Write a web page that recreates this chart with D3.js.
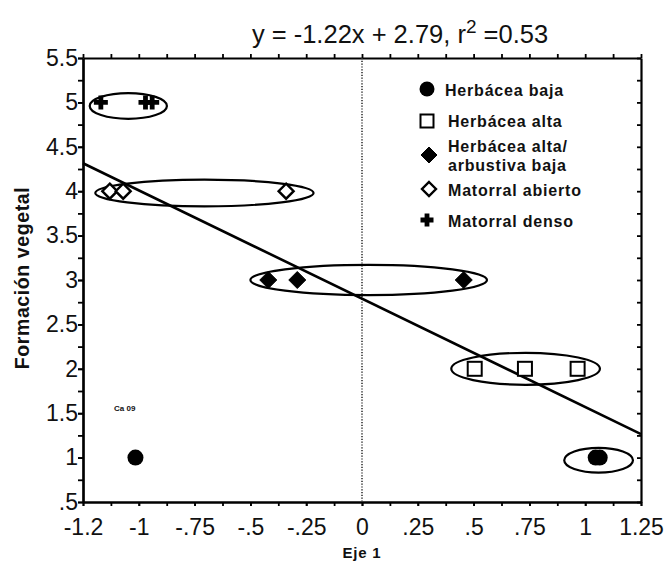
<!DOCTYPE html>
<html>
<head>
<meta charset="utf-8">
<script src="https://cdn.jsdelivr.net/npm/d3@7"></script>
<style>
  html, body { margin: 0; padding: 0; background: #fff; }
  svg { display: block; }
  .tick text { font-family: "Liberation Sans", Arial, sans-serif; }
</style>
</head>
<body>
<svg id="chart" width="664" height="565"></svg>
<script>
// Regression fit shown in the title
const slope = -1.22;
const intercept = 2.79;
const r2 = 0.53;

// Observations per vegetation class (Eje 1 score, formation code)
const herbaceaBaja = [[-1.015, 1], [1.047, 1], [1.065, 1]];
const herbaceaAlta = [[0.505, 2], [0.73, 2], [0.966, 2]];
const herbaceaArbustiva = [[-0.42, 3], [-0.29, 3], [0.456, 3]];
const matorralAbierto = [[-1.13, 4], [-1.07, 4], [-0.34, 4]];
const matorralDenso = [[-1.17, 5], [-0.97, 5], [-0.94, 5]];

// Grouping ellipses: [centre x, centre y, half-width, half-height] in data units
const groupEllipses = [
  [-1.047, 4.96, 0.173, 0.145],
  [-0.706, 3.98, 0.489, 0.15],
  [0.03, 3.0, 0.53, 0.17],
  [0.733, 2.0, 0.333, 0.18],
  [1.06, 0.97, 0.154, 0.14]
];

// Axis ticks
const xTickValues = [-1.25, -1, -0.75, -0.5, -0.25, 0, 0.25, 0.5, 0.75, 1, 1.25];
const xTickLabels = ["-1.2", "-1", "-.75", "-.5", "-.25", "0", ".25", ".5", ".75", "1", "1.25"];
const yTickValues = [0.5, 1, 1.5, 2, 2.5, 3, 3.5, 4, 4.5, 5, 5.5];
const yTickLabels = [".5", "1", "1.5", "2", "2.5", "3", "3.5", "4", "4.5", "5", "5.5"];

const legendLabels = ["Herbácea baja", "Herbácea alta", ["Herbácea alta/", "arbustiva baja"], "Matorral abierto", "Matorral denso"];

const svg = d3.select("#chart");
const plotLeft = 83, plotRight = 641, plotTop = 58, plotBottom = 502;
const x = d3.scaleLinear().domain([-1.25, 1.25]).range([plotLeft, plotRight]);
const y = d3.scaleLinear().domain([0.5, 5.5]).range([plotBottom, plotTop]);

const fontAxis = '"Liberation Sans", Arial, sans-serif';
const fontBold = '"Liberation Sans", Arial, sans-serif';

// Minor tick positions
const xMinor = d3.range(-1.25, 1.2501, 0.125);
const yMinor = d3.range(0.5, 5.5001, 0.25);

function styleAxis(g) {
  g.select(".domain").attr("stroke", "#000").attr("stroke-width", 2.2);
  g.selectAll(".tick line").attr("stroke", "#000").attr("stroke-width", 1.8);
}

// Bottom axis: minor ticks then labelled majors
svg.append("g").attr("transform", `translate(0,${plotBottom})`)
  .call(d3.axisBottom(x).tickValues(xMinor).tickSize(4).tickSizeOuter(0).tickFormat(""))
  .call(styleAxis);
svg.append("g").attr("transform", `translate(0,${plotBottom})`)
  .call(d3.axisBottom(x).tickValues(xTickValues).tickSize(4).tickSizeOuter(0)
    .tickFormat((d, i) => xTickLabels[i]))
  .call(styleAxis)
  .call(g => g.selectAll(".tick text").attr("font-size", 23).attr("fill", "#111")
    .attr("y", 33).attr("dy", 0));

// Top axis (ticks only)
svg.append("g").attr("transform", `translate(0,${plotTop})`)
  .call(d3.axisTop(x).tickValues(xMinor).tickSize(4).tickSizeOuter(0).tickFormat(""))
  .call(styleAxis);

// Left axis
svg.append("g").attr("transform", `translate(${plotLeft},0)`)
  .call(d3.axisLeft(y).tickValues(yMinor).tickSize(5).tickSizeOuter(0).tickFormat(""))
  .call(styleAxis);
svg.append("g").attr("transform", `translate(${plotLeft},0)`)
  .call(d3.axisLeft(y).tickValues(yTickValues).tickSize(5).tickSizeOuter(0)
    .tickFormat((d, i) => yTickLabels[i]))
  .call(styleAxis)
  .call(g => g.selectAll(".tick text").attr("font-size", 23).attr("fill", "#111").attr("x", -5));

// Right axis, ticks pointing inward
svg.append("g").attr("transform", `translate(${plotRight},0)`)
  .call(d3.axisRight(y).tickValues(yMinor).tickSize(-4).tickSizeOuter(0).tickFormat(""))
  .call(styleAxis);

// Dotted reference line at x = 0
svg.append("line")
  .attr("x1", x(0)).attr("x2", x(0)).attr("y1", plotTop).attr("y2", plotBottom)
  .attr("stroke", "#333").attr("stroke-width", 1.6).attr("stroke-dasharray", "1.2,1.6");

// Regression line
svg.append("line")
  .attr("x1", x(-1.25)).attr("y1", y(slope * -1.25 + intercept))
  .attr("x2", x(1.25)).attr("y2", y(slope * 1.25 + intercept))
  .attr("stroke", "#000").attr("stroke-width", 2.6);

// Group ellipses
svg.append("g").selectAll("ellipse").data(groupEllipses).join("ellipse")
  .attr("cx", d => x(d[0])).attr("cy", d => y(d[1]))
  .attr("rx", d => x(d[0] + d[2]) - x(d[0]))
  .attr("ry", d => y(d[1] - d[3]) - y(d[1]))
  .attr("fill", "none").attr("stroke", "#000").attr("stroke-width", 2.2);

// Marker painters
const markers = {
  circle: (g, size) => g.append("circle").attr("r", size).attr("fill", "#000"),
  square: (g, size) => g.append("rect").attr("x", -size + 1).attr("y", -size + 1)
    .attr("width", 2 * size - 2).attr("height", 2 * size - 2)
    .attr("fill", "#fff").attr("stroke", "#000").attr("stroke-width", 2),
  diamond: (g, size) => g.append("path").attr("d", `M0,${-size}L${size},0L0,${size}L${-size},0Z`)
    .attr("fill", "#000").attr("stroke", "#000").attr("stroke-width", 1),
  openDiamond: (g, size) => g.append("path").attr("d", `M0,${-size + 1}L${size - 1},0L0,${size - 1}L${-size + 1},0Z`)
    .attr("fill", "#fff").attr("stroke", "#000").attr("stroke-width", 2.4),
  plus: (g, size) => g.append("path")
    .attr("d", `M${-size},0H${size}M0,${-size}V${size}`)
    .attr("stroke", "#000").attr("stroke-width", 4.8).attr("fill", "none")
};

const seriesList = [
  { data: herbaceaBaja, shape: "circle", size: 8 },
  { data: herbaceaAlta, shape: "square", size: 8 },
  { data: herbaceaArbustiva, shape: "diamond", size: 8.5 },
  { data: matorralAbierto, shape: "openDiamond", size: 8.5 },
  { data: matorralDenso, shape: "plus", size: 7 }
];

seriesList.forEach(s => {
  s.data.forEach(p => {
    const g = svg.append("g").attr("transform", `translate(${x(p[0])},${y(p[1])})`);
    markers[s.shape](g, s.size);
  });
});

// Legend
const legendRows = [
  { cy: 89, base: 96 },
  { cy: 121, base: 127 },
  { cy: 155, base: 152 },
  { cy: 189, base: 196 },
  { cy: 220, base: 227 }
];
const legendShapes = [
  { shape: "circle", size: 7.5, dx: 0 },
  { shape: "square", size: 7.5, dx: 0 },
  { shape: "diamond", size: 8, dx: 2 },
  { shape: "openDiamond", size: 8, dx: 2 },
  { shape: "plus", size: 6.5, dx: 0 }
];
const legend = svg.append("g");
legendRows.forEach((row, i) => {
  const g = legend.append("g").attr("transform", `translate(${427 + legendShapes[i].dx},${row.cy})`);
  markers[legendShapes[i].shape](g, legendShapes[i].size);
  const lines = Array.isArray(legendLabels[i]) ? legendLabels[i] : [legendLabels[i]];
  const tx = i === 0 ? 445 : 448;
  const text = legend.append("text").attr("x", tx).attr("y", row.base)
    .attr("font-family", fontBold).attr("font-weight", "bold").attr("font-size", 16)
    .attr("letter-spacing", 0.8).attr("fill", "#111");
  lines.forEach((t, j) => {
    text.append("tspan").attr("x", tx).attr("dy", j === 0 ? 0 : 18.5).text(t);
  });
});

// Small annotation
svg.append("text").attr("x", 114).attr("y", 411)
  .attr("font-family", fontBold).attr("font-weight", "bold").attr("font-size", 8)
  .attr("fill", "#111").text("Ca 09");

// Title with the regression equation
const title = svg.append("text").attr("x", 400).attr("y", 43)
  .attr("text-anchor", "middle").attr("font-family", fontAxis).attr("font-size", 25.5).attr("fill", "#111");
title.append("tspan").text(`y = ${slope}x + ${intercept}, r`);
title.append("tspan").attr("font-size", 19).attr("dy", -10).text("2");
title.append("tspan").attr("dy", 10).text(` =${r2}`);

// Axis titles
svg.append("text").attr("x", 362).attr("y", 558).attr("text-anchor", "middle")
  .attr("font-family", fontBold).attr("font-weight", "bold").attr("font-size", 15)
  .attr("letter-spacing", 0.8).attr("fill", "#111").text("Eje 1");

svg.append("text").attr("transform", "translate(29,278) rotate(-90)").attr("text-anchor", "middle")
  .attr("font-family", fontBold).attr("font-weight", "bold").attr("font-size", 19.5)
  .attr("letter-spacing", 0.6).attr("fill", "#111").text("Formación vegetal");
</script>
</body>
</html>
